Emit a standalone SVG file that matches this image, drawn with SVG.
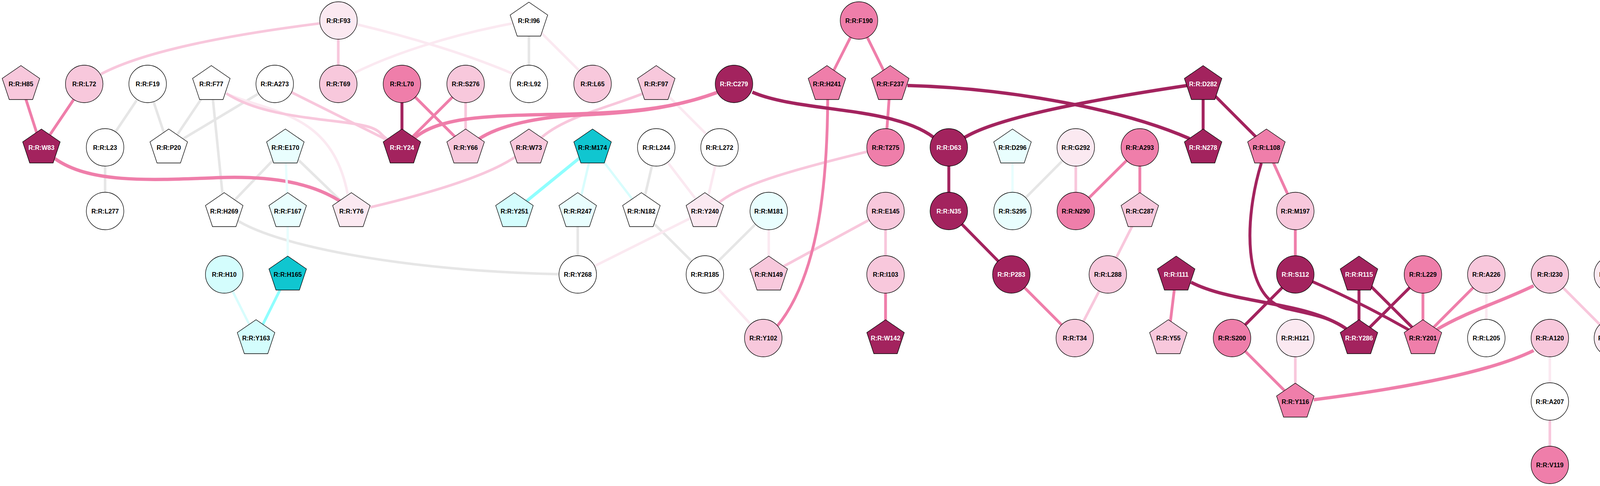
<svg xmlns="http://www.w3.org/2000/svg" width="4184" height="1245" viewBox="0 0 4184 1245">
<style>
.bg{fill:#ffffff}
.e{fill:none;stroke-linecap:butt}
.gray{stroke:#e6e6e6;stroke-width:6.5}
.vl{stroke:#fbe9f1;stroke-width:6.5}
.lt{stroke:#f8c7dc;stroke-width:6.8}
.md{stroke:#ef7eaa;stroke-width:7.2}
.dk{stroke:#a3235e;stroke-width:7.5}
.cy{stroke:#8ffefe;stroke-width:8}
.lcy{stroke:#d8fdfd;stroke-width:6}
.vcy{stroke:#e8fefe;stroke-width:6}
.thick{stroke-width:8.5}
.n{stroke:#000000;stroke-width:1.3}
.fd{fill:#a3235e}
.fm{fill:#ef7eaa}
.fl{fill:#f8c8dc}
.fv{fill:#fbe9f1}
.fw{fill:#ffffff}
.fvc{fill:#e9fefe}
.flc{fill:#d4fdfd}
.fdc{fill:#10c6d0}
text{font-family:"Liberation Sans",Arial,sans-serif;font-weight:bold;font-size:16px;text-anchor:middle;fill:#000000}
text.w{fill:#ffffff}
</style>
<defs>
<polygon id="pent" points="0,-47 48,-14 30,40 -30,40 -48,-14"/>
</defs>
<rect class="bg" x="0" y="0" width="4184" height="1245"/>
<g id="edges">
<!-- gray -->
<line class="e gray" x1="378" y1="215" x2="269" y2="377.5"/>
<line class="e gray" x1="378" y1="215" x2="432" y2="377.5"/>
<line class="e gray" x1="541" y1="215" x2="432" y2="377.5"/>
<line class="e gray" x1="703.3" y1="215" x2="432" y2="377.5"/>
<line class="e gray" x1="541" y1="215" x2="574" y2="540.5"/>
<line class="e gray" x1="269" y1="377.5" x2="269" y2="540.5"/>
<line class="e gray" x1="730.5" y1="377.5" x2="574" y2="540.5"/>
<line class="e gray" x1="730.5" y1="377.5" x2="899.5" y2="540.5"/>
<path class="e gray" d="M 600,560 C 720,640 1100,700 1479,703"/>
<line class="e gray" x1="1354" y1="52.5" x2="1354" y2="215"/>
<line class="e gray" x1="1680" y1="377.5" x2="1642" y2="540.5"/>
<line class="e gray" x1="1479" y1="540.5" x2="1479" y2="703"/>
<line class="e gray" x1="1642" y1="540.5" x2="1804.5" y2="703"/>
<line class="e gray" x1="1968" y1="540.5" x2="1804.5" y2="703"/>
<line class="e gray" x1="2754" y1="377.5" x2="2592" y2="540.5"/>
<!-- very light pink -->
<path class="e vl" d="M 912,62 C 1050,95 1200,140 1315,190"/>
<path class="e vl" d="M 905,188 C 1000,140 1150,90 1312,60"/>
<path class="e vl" d="M 579,240 C 700,290 850,290 890,497"/>
<line class="e vl" x1="1354" y1="52.5" x2="1517" y2="215"/>
<line class="e vl" x1="1680" y1="215" x2="1842" y2="377.5"/>
<line class="e vl" x1="1680" y1="377.5" x2="1804.5" y2="540.5"/>
<line class="e vl" x1="1842" y1="377.5" x2="1804.5" y2="540.5"/>
<line class="e vl" x1="1968" y1="540.5" x2="1968" y2="703"/>
<line class="e vl" x1="1804.5" y1="540.5" x2="1479" y2="703"/>
<line class="e vl" x1="1804.5" y1="703" x2="1954" y2="866"/>
<line class="e vl" x1="3805" y1="703" x2="3805" y2="866"/>
<line class="e vl" x1="4130" y1="703" x2="4130" y2="866"/>
<line class="e vl" x1="3967.6" y1="866" x2="3967.6" y2="1028.5"/>
<!-- light pink -->
<path class="e lt" d="M 818,60 C 620,85 380,125 258,190"/>
<line class="e lt" x1="866" y1="52.5" x2="866" y2="215"/>
<path class="e lt" d="M 579,239 C 650,285 750,298 870,312 S 960,340 1000,362"/>
<line class="e lt" x1="703.3" y1="215" x2="1029" y2="377.5"/>
<line class="e lt" x1="1192" y1="215" x2="1192" y2="377.5"/>
<path class="e lt" d="M 1650,238 C 1560,275 1440,300 1380,358"/>
<path class="e lt" d="M 1322,400 C 1250,450 1100,495 948,531"/>
<line class="e lt" x1="2267" y1="540.5" x2="1968" y2="703"/>
<path class="e lt" d="M 1842,518 C 1900,470 2050,430 2222,388"/>
<line class="e lt" x1="2754" y1="377.5" x2="2754" y2="540.5"/>
<line class="e lt" x1="2267" y1="540.5" x2="2267" y2="703"/>
<line class="e lt" x1="2918" y1="540.5" x2="2836" y2="703"/>
<line class="e lt" x1="2836" y1="703" x2="2751.5" y2="866"/>
<line class="e lt" x1="3316" y1="866" x2="3316" y2="1028.5"/>
<line class="e lt" x1="3967.6" y1="703" x2="4130" y2="866"/>
<line class="e lt" x1="3967.6" y1="1028.5" x2="3967.6" y2="1191"/>
<!-- medium pink -->
<line class="e md" x1="53.6" y1="215" x2="106" y2="377.5"/>
<line class="e md" x1="215.6" y1="215" x2="106" y2="377.5"/>
<path class="e md thick" d="M 140,406 C 230,470 380,462 560,455 C 700,450 800,470 870,515"/>
<line class="e md" x1="1029" y1="215" x2="1192" y2="377.5"/>
<line class="e md" x1="1192" y1="215" x2="1029" y2="377.5"/>
<path class="e md thick" d="M 1835,237 C 1720,280 1600,290 1420,293 C 1250,296 1120,300 1060,355"/>
<path class="e md thick" d="M 1835,237 C 1720,280 1600,290 1480,295 C 1380,300 1280,320 1226,356"/>
<line class="e md" x1="2199" y1="52.5" x2="2117" y2="215"/>
<line class="e md" x1="2199" y1="52.5" x2="2279" y2="215"/>
<line class="e md" x1="2279" y1="215" x2="2267" y2="377.5"/>
<path class="e md" d="M 2119,250 C 2118,450 2100,700 1990,835"/>
<line class="e md" x1="2918" y1="377.5" x2="2754" y2="540.5"/>
<line class="e md" x1="2918" y1="377.5" x2="2918" y2="540.5"/>
<line class="e md" x1="2589" y1="703" x2="2751.5" y2="866"/>
<line class="e md" x1="2267" y1="703" x2="2267" y2="866"/>
<line class="e md" x1="3011" y1="703" x2="2991" y2="866"/>
<line class="e md" x1="3242" y1="377.5" x2="3316" y2="540.5"/>
<line class="e md" x1="3316" y1="540.5" x2="3316" y2="703"/>
<line class="e md" x1="3642.7" y1="703" x2="3642.7" y2="866"/>
<line class="e md" x1="3805" y1="703" x2="3642.7" y2="866"/>
<path class="e md thick" d="M 3926,732 C 3850,770 3750,800 3677,845"/>
<line class="e md" x1="3154" y1="866" x2="3316" y2="1028.5"/>
<path class="e md thick" d="M 3926,898 C 3800,960 3550,1000 3363,1024"/>
<!-- dark -->
<line class="e dk" x1="1029" y1="215" x2="1029" y2="377.5"/>
<path class="e dk thick" d="M 1926,236 C 2050,290 2300,270 2400,360"/>
<path class="e dk thick" d="M 2323,219 C 2550,225 2850,270 3045,355"/>
<path class="e dk thick" d="M 3039,219 C 2800,255 2550,300 2465,355"/>
<line class="e dk" x1="3080" y1="215" x2="3080" y2="377.5"/>
<line class="e dk" x1="3080" y1="215" x2="3242" y2="377.5"/>
<line class="e dk" x1="2429" y1="377.5" x2="2429" y2="540.5"/>
<line class="e dk" x1="2429" y1="540.5" x2="2589" y2="703"/>
<path class="e dk" d="M 3229,418 C 3185,560 3180,760 3290,790 C 3360,805 3410,815 3446,842"/>
<path class="e dk thick" d="M 3049,723 C 3160,780 3340,770 3446,842"/>
<line class="e dk" x1="3316" y1="703" x2="3154" y2="866"/>
<path class="e dk" d="M 3316,703 Q 3480,770 3642.7,866"/>
<line class="e dk" x1="3479" y1="703" x2="3479" y2="866"/>
<line class="e dk" x1="3479" y1="703" x2="3642.7" y2="866"/>
<line class="e dk" x1="3642.7" y1="703" x2="3479" y2="866"/>
<!-- cyan -->
<line class="e cy" x1="1517" y1="377.5" x2="1317" y2="540.5"/>
<line class="e cy" x1="736.5" y1="703" x2="655.5" y2="866" style="stroke-width:7"/>
<line class="e lcy" x1="1517" y1="377.5" x2="1642" y2="540.5"/>
<line class="e lcy" x1="1517" y1="377.5" x2="1479" y2="540.5"/>
<line class="e lcy" x1="574" y1="703" x2="655.5" y2="866"/>
<line class="e vcy" x1="730.5" y1="377.5" x2="736.5" y2="540.5"/>
<line class="e vcy" x1="736.5" y1="540.5" x2="736.5" y2="703"/>
<line class="e vcy" x1="2592" y1="377.5" x2="2592" y2="540.5"/>
</g>
<g id="nodes">
<g id="F93" transform="translate(866.5,52.5)"><circle class="n fv" r="48"/><text y="6">R:R:F93</text></g>
<g id="I96" transform="translate(1354,52.5)"><use href="#pent" class="n fw"/><text y="6">R:R:I96</text></g>
<g id="F190" transform="translate(2199,52.5)"><circle class="n fm" r="48"/><text y="6">R:R:F190</text></g>

<g id="H85" transform="translate(53.6,215)"><use href="#pent" class="n fl"/><text y="6">R:R:H85</text></g>
<g id="L72" transform="translate(215.6,215)"><circle class="n fl" r="48"/><text y="6">R:R:L72</text></g>
<g id="F19" transform="translate(378,215)"><circle class="n fw" r="48"/><text y="6">R:R:F19</text></g>
<g id="F77" transform="translate(541,215)"><use href="#pent" class="n fw"/><text y="6">R:R:F77</text></g>
<g id="A273" transform="translate(703.3,215)"><circle class="n fw" r="48"/><text y="6">R:R:A273</text></g>
<g id="T69" transform="translate(866,215)"><circle class="n fl" r="48"/><text y="6">R:R:T69</text></g>
<g id="L70" transform="translate(1029,215)"><circle class="n fm" r="48"/><text y="6">R:R:L70</text></g>
<g id="S276" transform="translate(1192,215)"><circle class="n fl" r="48"/><text y="6">R:R:S276</text></g>
<g id="L92" transform="translate(1354,215)"><circle class="n fw" r="48"/><text y="6">R:R:L92</text></g>
<g id="L65" transform="translate(1517,215)"><circle class="n fl" r="48"/><text y="6">R:R:L65</text></g>
<g id="F97" transform="translate(1680,215)"><use href="#pent" class="n fl"/><text y="6">R:R:F97</text></g>
<g id="C279" transform="translate(1879,215)"><circle class="n fd" r="48"/><text class="w" y="6">R:R:C279</text></g>
<g id="H241" transform="translate(2117,215)"><use href="#pent" class="n fm"/><text y="6">R:R:H241</text></g>
<g id="F237" transform="translate(2279,215)"><use href="#pent" class="n fm"/><text y="6">R:R:F237</text></g>
<g id="D282" transform="translate(3080,215)"><use href="#pent" class="n fd"/><text class="w" y="6">R:R:D282</text></g>

<g id="W83" transform="translate(106,377.5)"><use href="#pent" class="n fd"/><text class="w" y="6">R:R:W83</text></g>
<g id="L23" transform="translate(269,377.5)"><circle class="n fw" r="48"/><text y="6">R:R:L23</text></g>
<g id="P20" transform="translate(432,377.5)"><use href="#pent" class="n fw"/><text y="6">R:R:P20</text></g>
<g id="E170" transform="translate(730.5,377.5)"><use href="#pent" class="n fvc"/><text y="6">R:R:E170</text></g>
<g id="Y24" transform="translate(1029,377.5)"><use href="#pent" class="n fd"/><text class="w" y="6">R:R:Y24</text></g>
<g id="Y66" transform="translate(1192,377.5)"><use href="#pent" class="n fl"/><text y="6">R:R:Y66</text></g>
<g id="W73" transform="translate(1354,377.5)"><use href="#pent" class="n fl"/><text y="6">R:R:W73</text></g>
<g id="M174" transform="translate(1517,377.5)"><use href="#pent" class="n fdc"/><text y="6">R:R:M174</text></g>
<g id="L244" transform="translate(1680,377.5)"><circle class="n fw" r="48"/><text y="6">R:R:L244</text></g>
<g id="L272" transform="translate(1842,377.5)"><circle class="n fw" r="48"/><text y="6">R:R:L272</text></g>
<g id="T275" transform="translate(2267,377.5)"><circle class="n fm" r="48"/><text y="6">R:R:T275</text></g>
<g id="D63" transform="translate(2429,377.5)"><circle class="n fd" r="48"/><text class="w" y="6">R:R:D63</text></g>
<g id="D296" transform="translate(2592,377.5)"><use href="#pent" class="n fvc"/><text y="6">R:R:D296</text></g>
<g id="G292" transform="translate(2754,377.5)"><circle class="n fv" r="48"/><text y="6">R:R:G292</text></g>
<g id="A293" transform="translate(2918,377.5)"><circle class="n fm" r="48"/><text y="6">R:R:A293</text></g>
<g id="N278" transform="translate(3080,377.5)"><use href="#pent" class="n fd"/><text class="w" y="6">R:R:N278</text></g>
<g id="L108" transform="translate(3242,377.5)"><use href="#pent" class="n fm"/><text y="6">R:R:L108</text></g>

<g id="L277" transform="translate(269,540.5)"><circle class="n fw" r="48"/><text y="6">R:R:L277</text></g>
<g id="H269" transform="translate(574,540.5)"><use href="#pent" class="n fw"/><text y="6">R:R:H269</text></g>
<g id="F167" transform="translate(736.5,540.5)"><use href="#pent" class="n fvc"/><text y="6">R:R:F167</text></g>
<g id="Y76" transform="translate(899.5,540.5)"><use href="#pent" class="n fv"/><text y="6">R:R:Y76</text></g>
<g id="Y251" transform="translate(1317,540.5)"><use href="#pent" class="n flc"/><text y="6">R:R:Y251</text></g>
<g id="R247" transform="translate(1479,540.5)"><use href="#pent" class="n fvc"/><text y="6">R:R:R247</text></g>
<g id="N182" transform="translate(1642,540.5)"><use href="#pent" class="n fw"/><text y="6">R:R:N182</text></g>
<g id="Y240" transform="translate(1804.5,540.5)"><use href="#pent" class="n fv"/><text y="6">R:R:Y240</text></g>
<g id="M181" transform="translate(1968,540.5)"><circle class="n fvc" r="48"/><text y="6">R:R:M181</text></g>
<g id="E145" transform="translate(2267,540.5)"><circle class="n fl" r="48"/><text y="6">R:R:E145</text></g>
<g id="N35" transform="translate(2429,540.5)"><circle class="n fd" r="48"/><text class="w" y="6">R:R:N35</text></g>
<g id="S295" transform="translate(2592,540.5)"><circle class="n fvc" r="48"/><text y="6">R:R:S295</text></g>
<g id="N290" transform="translate(2754,540.5)"><circle class="n fm" r="48"/><text y="6">R:R:N290</text></g>
<g id="C287" transform="translate(2918,540.5)"><use href="#pent" class="n fl"/><text y="6">R:R:C287</text></g>
<g id="M197" transform="translate(3316,540.5)"><circle class="n fl" r="48"/><text y="6">R:R:M197</text></g>

<g id="H10" transform="translate(574,703)"><circle class="n flc" r="48"/><text y="6">R:R:H10</text></g>
<g id="H165" transform="translate(736.5,703)"><use href="#pent" class="n fdc"/><text y="6">R:R:H165</text></g>
<g id="Y268" transform="translate(1479,703)"><circle class="n fw" r="48"/><text y="6">R:R:Y268</text></g>
<g id="R185" transform="translate(1804.5,703)"><circle class="n fw" r="48"/><text y="6">R:R:R185</text></g>
<g id="N149" transform="translate(1968,703)"><use href="#pent" class="n fl"/><text y="6">R:R:N149</text></g>
<g id="I103" transform="translate(2267,703)"><circle class="n fl" r="48"/><text y="6">R:R:I103</text></g>
<g id="P283" transform="translate(2589,703)"><circle class="n fd" r="48"/><text class="w" y="6">R:R:P283</text></g>
<g id="L288" transform="translate(2836,703)"><circle class="n fl" r="48"/><text y="6">R:R:L288</text></g>
<g id="I111" transform="translate(3011,703)"><use href="#pent" class="n fd"/><text class="w" y="6">R:R:I111</text></g>
<g id="S112" transform="translate(3316,703)"><circle class="n fd" r="48"/><text class="w" y="6">R:R:S112</text></g>
<g id="R115" transform="translate(3479,703)"><use href="#pent" class="n fd"/><text class="w" y="6">R:R:R115</text></g>
<g id="L229" transform="translate(3642.7,703)"><circle class="n fm" r="48"/><text y="6">R:R:L229</text></g>
<g id="A226" transform="translate(3805,703)"><circle class="n fl" r="48"/><text y="6">R:R:A226</text></g>
<g id="I230" transform="translate(3967.6,703)"><circle class="n fl" r="48"/><text y="6">R:R:I230</text></g>
<g id="L234" transform="translate(4129,703)"><circle class="n fv" r="48"/><text y="6">R:R:L234</text></g>

<g id="Y163" transform="translate(655.5,866)"><use href="#pent" class="n flc"/><text y="6">R:R:Y163</text></g>
<g id="Y102" transform="translate(1954,866)"><circle class="n fl" r="48"/><text y="6">R:R:Y102</text></g>
<g id="W142" transform="translate(2267,866)"><use href="#pent" class="n fd"/><text class="w" y="6">R:R:W142</text></g>
<g id="T34" transform="translate(2751.5,866)"><circle class="n fl" r="48"/><text y="6">R:R:T34</text></g>
<g id="Y55" transform="translate(2991,866)"><use href="#pent" class="n fl"/><text y="6">R:R:Y55</text></g>
<g id="S200" transform="translate(3154,866)"><circle class="n fm" r="48"/><text y="6">R:R:S200</text></g>
<g id="H121" transform="translate(3316,866)"><circle class="n fv" r="48"/><text y="6">R:R:H121</text></g>
<g id="Y286" transform="translate(3479,866)"><use href="#pent" class="n fd"/><text class="w" y="6">R:R:Y286</text></g>
<g id="Y201" transform="translate(3642.7,866)"><use href="#pent" class="n fm"/><text y="6">R:R:Y201</text></g>
<g id="L205" transform="translate(3805,866)"><circle class="n fw" r="48"/><text y="6">R:R:L205</text></g>
<g id="A120" transform="translate(3967.6,866)"><circle class="n fl" r="48"/><text y="6">R:R:A120</text></g>
<g id="W194" transform="translate(4129,866)"><circle class="n fv" r="48"/><text y="6">R:R:W194</text></g>

<g id="Y116" transform="translate(3316,1028.5)"><use href="#pent" class="n fm"/><text y="6">R:R:Y116</text></g>
<g id="A207" transform="translate(3967.6,1028.5)"><circle class="n fw" r="48"/><text y="6">R:R:A207</text></g>

<g id="V119" transform="translate(3967.6,1191)"><circle class="n fm" r="48"/><text y="6">R:R:V119</text></g>
</g>
</svg>
